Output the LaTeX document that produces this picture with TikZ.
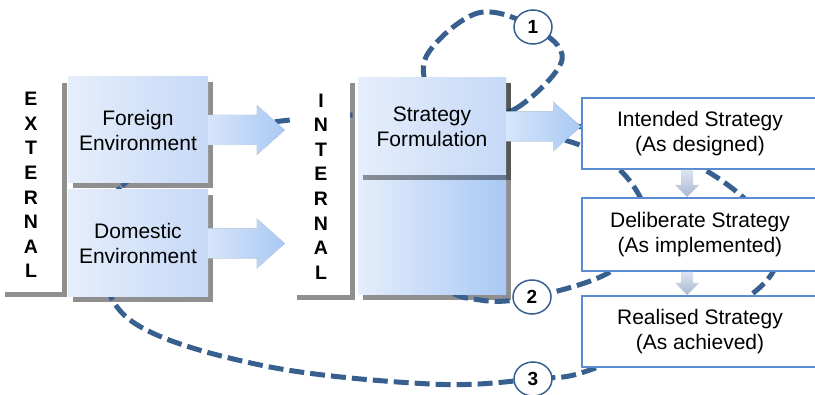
\documentclass[tikz,border=0pt]{standalone}
\usepackage{fontspec}
\setmainfont{Liberation Sans}
\usetikzlibrary{calc,shapes.geometric}

\definecolor{ombra}{HTML}{8F8F8F}
\definecolor{tratto}{HTML}{38608F}
\definecolor{bordo}{HTML}{5B8CD2}
\definecolor{celestino}{HTML}{E5EEFB}
\definecolor{celeste}{HTML}{C6D9F7}
\definecolor{azzurro}{HTML}{A9C9F4}
\definecolor{chiaro}{HTML}{D6E5FA}
\definecolor{grigio1}{HTML}{DCE4F0}
\definecolor{grigio2}{HTML}{A9B8D2}

\pgfdeclarelayer{ombre}
\pgfdeclarelayer{anelli}
\pgfsetlayers{ombre,anelli,main}

\tikzset{
  testo/.style={font=\fontsize{21}{25}\selectfont, align=center},
  scatola/.style={rectangle, inner sep=0pt, left color=celestino, right color=celeste, testo},
  bianca/.style={rectangle, inner sep=0pt, fill=white, align=center, font=\fontsize{19.5}{24.6}\selectfont\bfseries},
  riquadro/.style={rectangle, draw=bordo, line width=2pt, fill=white, minimum width=236pt, testo},
  freccione/.style={left color=chiaro, right color=azzurro},
  freccina/.style={top color=grigio1, bottom color=grigio2},
  anello/.style={draw=tratto, line width=5pt, dash pattern=on 15pt off 6pt},
  numero/.style={ellipse, draw=tratto, line width=1.5pt, fill=white, minimum width=38pt, minimum height=34pt, inner sep=0pt, font=\fontsize{19}{19}\selectfont\bfseries}
}

% freccia grossa: coda, punta
\newcommand{\frecciona}[3][freccione]{%
  \path[#1] let \p1=(#2), \p2=(#3) in
    (\x1,\y1+15pt) -- (\x2-28pt,\y1+15pt) -- (\x2-28pt,\y1+25pt) -- (\x2,\y1)
    -- (\x2-28pt,\y1-25pt) -- (\x2-28pt,\y1-15pt) -- (\x1,\y1-15pt) -- cycle;}
% freccia piccola verso il basso
\newcommand{\freccina}[2]{%
  \path[freccina] let \p1=(#1), \p2=(#2) in
    (\x1-6pt,\y1) -- (\x1-6pt,\y2+12pt) -- (\x1-12pt,\y2+12pt) -- (\x1,\y2)
    -- (\x1+12pt,\y2+12pt) -- (\x1+6pt,\y2+12pt) -- (\x1+6pt,\y1) -- cycle;}

\begin{document}
\begin{tikzpicture}[x=1pt,y=-1pt]
\useasboundingbox (0,0) rectangle (815,395);

% Esterno
\node[bianca, minimum width=62pt, minimum height=214pt] (ext) at (31,185) {E\\X\\T\\E\\R\\N\\A\\L};
\node[scatola, minimum width=140pt, minimum height=106pt] (foreign) at (138,130) {Foreign\\Environment};
\node[scatola, minimum width=140pt, minimum height=107pt] (domestic) at (138,243.5) {Domestic\\Environment};

% Interno
\node[bianca, minimum width=58pt, minimum height=217pt] (int) at (321,186.5) {I\\N\\T\\E\\R\\N\\A\\L};
\node[scatola, minimum width=148pt, minimum height=217pt, right color=azzurro] (strat) at (432,186.5) {};
\fill[black, opacity=0.4] ($(strat.north west)+(5,5)$) rectangle ($(strat.north east)+(5,102)$);
\node[scatola, minimum width=148pt, minimum height=97pt] (formul) at (432,126.5) {Strategy\\Formulation};

% Strategie
\node[riquadro, minimum height=71pt] (intended) at (700,133.5) {Intended Strategy\\(As designed)};
\node[riquadro, minimum height=73pt] (deliberate) at (700,234.5) {Deliberate Strategy\\(As implemented)};
\node[riquadro, minimum height=71pt] (realised) at (700,331.5) {Realised Strategy\\(As achieved)};

% Frecce
\frecciona{foreign.east}{$(int.west |- foreign.east)+(-7,0)$}
\frecciona{domestic.east}{$(int.west |- domestic.east)+(-7,0)$}
\frecciona{formul.east}{intended.west |- formul.east}
\freccina{$(intended.south)+(-13,0)$}{deliberate.north}
\freccina{$(deliberate.south)+(-13,0)$}{realised.north}

% Numeri
\node[numero] (uno) at (533,27) {1};
\node[numero] (due) at (532,297) {2};
\node[numero] (tre) at (533,379) {3};

% Ombre
\begin{pgfonlayer}{ombre}
\foreach \n in {ext,foreign,domestic,int,strat}
  \fill[ombra] ($(\n.south west)+(5,5)$) rectangle ($(\n.north east)+(5,5)$);
\frecciona[fill=ombra, xshift=5pt, yshift=-5pt]{foreign.east}{$(int.west |- foreign.east)+(-7,0)$}
\frecciona[fill=ombra, xshift=5pt, yshift=-5pt]{domestic.east}{$(int.west |- domestic.east)+(-7,0)$}
\frecciona[fill=ombra, xshift=5pt, yshift=-5pt]{formul.east}{intended.west |- formul.east}
\end{pgfonlayer}

% Anelli tratteggiati
\begin{pgfonlayer}{anelli}
\draw[anello] plot[smooth cycle, tension=0.6] coordinates {(470,112) (515,109) (562,60) (uno.center) (478,13) (427,55) (432,95)};
\draw[anello] plot[smooth cycle, tension=0.6] coordinates {(445,282) (440,200) (470,138) (560,139) (622,172) (648,228) (610,272) (due.center) (480,300)};
\draw[anello] plot[smooth cycle, tension=0.6] coordinates {(100,245) (122,186) (208,138) (290,120) (420,114) (582,127) (705,170) (775,238) (748,297) (598,367) (tre.center) (430,384) (260,365) (130,320)};
\end{pgfonlayer}

\end{tikzpicture}
\end{document}
